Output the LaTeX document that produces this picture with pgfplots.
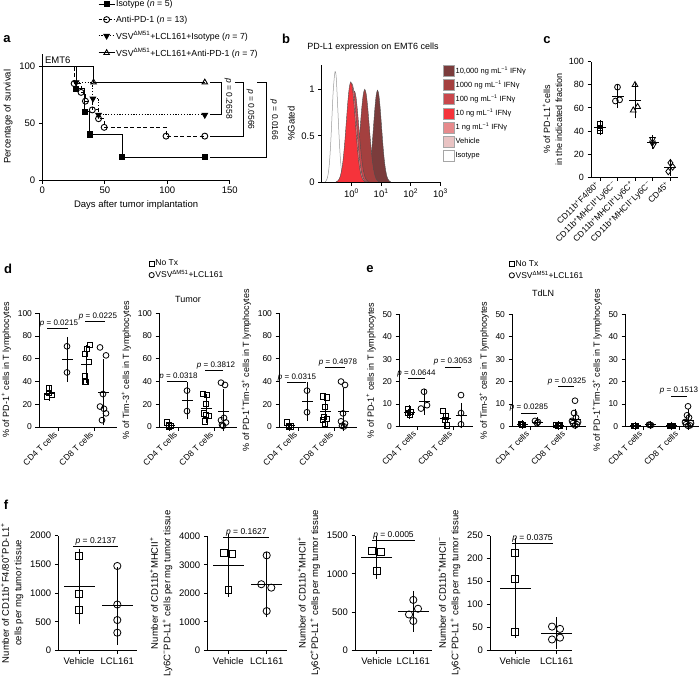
\documentclass[border=0pt]{standalone}
\usepackage{fontspec}
\setmainfont{Liberation Sans}
\usepackage{pgfplots}
\pgfplotsset{compat=1.18}
\usetikzlibrary{plotmarks}
\newcommand{\fs}[2]{\fontsize{#1}{#2}\selectfont}
\newcommand{\sps}{\textsuperscript{+}}
\newcommand{\smn}{\textsuperscript{−}}
\newcommand{\pv}[1]{\textit{p} = #1}
\definecolor{cA}{RGB}{123,60,60}
\definecolor{cB}{RGB}{164,64,63}
\definecolor{cC}{RGB}{201,71,76}
\definecolor{cD}{RGB}{245,51,59}
\definecolor{cE}{RGB}{231,138,140}
\definecolor{cF}{RGB}{233,195,195}
\tikzset{
 ptx/.style={anchor=south, font=\fs{8}{9}, inner sep=1.2pt},
 pbar/.style={line width=0.8pt},
}
\pgfplotsset{
 gp/.style={scale only axis, anchor=south west, axis lines*=left, clip=false,
   axis line style={line width=0.9pt, black},
   tick style={black, line width=0.9pt},
   tick align=outside, major tick length=3.5pt,
   /pgf/number format/assume math mode=true,
   /pgf/number format/1000 sep={},
   scaled ticks=false,
   tick label style={font=\fs{8.5}{10}},
   label style={font=\fs{9}{11}},
   ylabel style={align=center},
 },
 sq/.style={only marks, black, mark=square, mark size=2.6pt, mark options={line width=0.8pt, fill=white}},
 ci/.style={only marks, black, mark=o, mark size=2.9pt, mark options={line width=0.8pt, fill=white}},
 mn/.style={only marks, black, mark=-, mark size=#1, mark options={line width=0.9pt},
   error bars/.cd, y dir=both, y explicit, error mark=-,
   error mark options={mark size=4pt, line width=0.9pt, black},
   error bar style={line width=0.9pt, black}},
 mn/.default=5.5pt,
 mnf/.style={only marks, black, mark=-, mark size=15.5pt, mark options={line width=0.9pt},
   error bars/.cd, y dir=both, y explicit, error mark=-,
   error mark options={mark size=10pt, line width=0.9pt, black},
   error bar style={line width=0.9pt, black}},
 dax/.style={gp, width=78pt, height=113.7pt, xmin=0, xmax=78, ymin=0, ymax=100,
   ytick={0,20,40,60,80,100}, xtick={19,55}, xticklabels={CD4 T cells, CD8 T cells},
   xticklabel style={rotate=45, anchor=east, font=\fs{8.5}{10}}},
 eax/.style={gp, width=74pt, height=112.2pt, xmin=0, xmax=74, ymin=0, ymax=50,
   ytick={0,10,20,30,40,50}, xtick={18,54}, xticklabels={CD4 T cells, CD8 T cells},
   xticklabel style={rotate=45, anchor=east, font=\fs{8.5}{10}}},
 fax/.style={gp, tick label style={font=\fs{9.5}{11}}, label style={font=\fs{9.5}{12.5}}},
}
\begin{document}
\begin{tikzpicture}
\useasboundingbox (0pt,0pt) rectangle (700pt,-677pt);
\node[font=\bfseries\fs{13}{13}] at (7pt,-39pt) {a};
\node[font=\bfseries\fs{13}{13}] at (286pt,-39pt) {b};
\node[font=\bfseries\fs{13}{13}] at (547pt,-40pt) {c};
\node[font=\bfseries\fs{13}{13}] at (8pt,-269pt) {d};
\node[font=\bfseries\fs{13}{13}] at (370pt,-269pt) {e};
\node[font=\bfseries\fs{13}{13}] at (6pt,-505pt) {f};

% ================= a =================
\begin{axis}[gp, at={(42.3pt,-180pt)}, width=187.5pt, height=126.5pt,
  xmin=0, xmax=150, ymin=0, ymax=111, xtick={0,50,100,150}, ytick={0,50,100},
  tick label style={font=\fs{9.5}{11}}, label style={font=\fs{9.5}{11}},
  xlabel={Days after tumor implantation}, ylabel={Percentage of survival},
  legend style={at={(0.297,1.43)}, anchor=north west, draw=none, fill=none,
    font=\fs{8.8}{10}, row sep=5.5pt, inner sep=0pt, nodes={inner sep=1pt}},
  legend cell align=left,
  legend image code/.code={\draw[mark repeat=2,mark phase=2,#1] plot coordinates {(0pt,0pt) (8pt,0pt) (16pt,0pt)};},
]
\addplot[black, line width=0.9pt, const plot, mark=square*, mark size=2.6pt, mark indices={2,3,4,5,6}, forget plot]
  coordinates {(0,100)(27,80)(34,60)(38,40)(64,20)(130,20)};
\addplot[black, line width=0.9pt, const plot, dash pattern=on 4pt off 2.5pt, mark=o, mark size=3pt,
  mark options={solid, fill=white}, mark indices={2,3,4,5,6,7,8,9}, forget plot]
  coordinates {(0,100)(25.5,84.6)(31,76.9)(34.5,69.2)(40,61.5)(45,53.8)(49.5,46.2)(99,38.5)(130,38.5)};
\addplot[black, line width=0.9pt, const plot, dash pattern=on 1.2pt off 1.6pt, mark=triangle*, mark size=3.2pt,
  mark options={solid, rotate=180}, mark indices={2,3,4,5}, forget plot]
  coordinates {(0,100)(27,85.7)(40.5,71.4)(45,57.1)(130,57.1)};
\addplot[black, line width=0.9pt, const plot, mark=triangle, mark size=3.2pt,
  mark options={solid, fill=white}, mark indices={2,3}, forget plot]
  coordinates {(0,100)(41,85.7)(130,85.7)};
\addlegendimage{black, line width=0.9pt, mark=square*, mark size=2.6pt}
\addlegendentry{Isotype (\textit{n} = 5)}
\addlegendimage{black, line width=0.9pt, dash pattern=on 3pt off 2pt, mark=o, mark size=3pt, mark options={solid, fill=white}}
\addlegendentry{Anti-PD-1 (\textit{n} = 13)}
\addlegendimage{black, line width=0.9pt, dash pattern=on 1.2pt off 1.6pt, mark=triangle*, mark size=3.2pt, mark options={solid, rotate=180}}
\addlegendentry{VSV\textsuperscript{ΔM51}+LCL161+Isotype (\textit{n} = 7)}
\addlegendimage{black, line width=0.9pt, mark=triangle, mark size=3.2pt, mark options={solid, fill=white}}
\addlegendentry{VSV\textsuperscript{ΔM51}+LCL161+Anti-PD-1 (\textit{n} = 7)}
\node[anchor=west, font=\fs{9.5}{11}, inner sep=0pt] at (axis cs:2,105) {EMT6};
\draw[line width=0.9pt] (axis cs:134,85.7) -| (axis cs:143.5,57.1) -- (axis cs:134,57.1);
\node[rotate=-90, font=\fs{8.5}{10}] at (axis cs:149,71.4) {\pv{0.2658}};
\draw[line width=0.9pt] (axis cs:154,85.7) -| (axis cs:160.6,38.5) -- (axis cs:134,38.5);
\node[rotate=-90, font=\fs{8.5}{10}] at (axis cs:166.5,62) {\pv{0.0566}};
\draw[line width=0.9pt] (axis cs:171.8,85.7) -| (axis cs:179.7,20) -- (axis cs:134,20);
\node[rotate=-90, font=\fs{8.5}{10}] at (axis cs:185.5,52.8) {\pv{0.0166}};
\end{axis}

% ================= b =================
\node[font=\fs{9}{10}] at (373pt,-47pt) {PD-L1 expression on EMT6 cells};
\begin{axis}[gp, at={(321.7pt,-182.3pt)}, width=118.8pt, height=117.3pt,
  xmin=-1, xmax=3, ymin=0, ymax=1.261, xtick={0,1,2,3},
  xticklabels={10\textsuperscript{0},10\textsuperscript{1},10\textsuperscript{2},10\textsuperscript{3}},
  ytick={0,0.5,1}, yticklabels={0,0.5,1},
  tick label style={font=\fs{9.5}{11}}, label style={font=\fs{9.5}{11}},
  ylabel={\%Gated},
  legend style={at={(1.021,1.0)}, anchor=north west, draw=none, fill=none,
    font=\fs{7.5}{9}, row sep=2.5pt, inner sep=0pt, nodes={inner sep=0.8pt}},
  legend cell align=left,
  legend image code/.code={\draw[#1, line width=0.6pt] (0pt,-5.5pt) rectangle (11pt,5.5pt);},
]
\addplot[draw=gray!80, fill=white, line width=0.5pt, smooth, forget plot] coordinates {
(-0.89,0.005)(-0.856,0.013)(-0.822,0.035)(-0.788,0.079)(-0.754,0.161)(-0.72,0.296)(-0.686,0.489)(-0.652,0.722)(-0.618,0.953)(-0.584,1.10)(-0.55,1.19)(-0.516,1.15)(-0.482,0.953)(-0.448,0.722)(-0.414,0.489)(-0.38,0.296)(-0.346,0.161)(-0.312,0.079)(-0.278,0.035)(-0.244,0.013)(-0.21,0.005)};
\addplot[draw=black!70, fill=cA, line width=0.4pt, smooth, forget plot] coordinates {
(0.43,0.004)(0.475,0.011)(0.52,0.029)(0.565,0.065)(0.61,0.134)(0.655,0.247)(0.7,0.407)(0.745,0.601)(0.79,0.793)(0.835,0.937)(0.88,0.99)(0.925,0.937)(0.97,0.793)(1.015,0.601)(1.06,0.407)(1.105,0.247)(1.15,0.134)(1.195,0.065)(1.24,0.029)(1.285,0.011)(1.33,0.004)};
\addplot[draw=black!70, fill=cB, line width=0.4pt, smooth, forget plot] coordinates {
(-0.05,0.004)(0.0,0.011)(0.05,0.029)(0.1,0.066)(0.15,0.135)(0.2,0.249)(0.25,0.411)(0.3,0.607)(0.35,0.801)(0.4,0.946)(0.45,1.0)(0.5,0.946)(0.55,0.801)(0.6,0.607)(0.65,0.411)(0.7,0.249)(0.75,0.135)(0.8,0.066)(0.85,0.029)(0.9,0.011)(0.95,0.004)};
\addplot[draw=black!70, fill=cC, line width=0.4pt, smooth, forget plot] coordinates {
(-0.4,0.004)(-0.35,0.011)(-0.3,0.028)(-0.25,0.065)(-0.2,0.132)(-0.15,0.244)(-0.1,0.403)(-0.05,0.595)(0.0,0.785)(0.05,0.927)(0.1,0.98)(0.15,0.927)(0.2,0.785)(0.25,0.595)(0.3,0.403)(0.35,0.244)(0.4,0.132)(0.45,0.065)(0.5,0.028)(0.55,0.011)(0.6,0.004)};
\addplot[draw=black!70, fill=cF, line width=0.4pt, smooth, forget plot] coordinates {
(-0.5,0.004)(-0.45,0.011)(-0.4,0.030)(-0.35,0.069)(-0.3,0.140)(-0.25,0.259)(-0.2,0.427)(-0.15,0.631)(-0.1,0.833)(-0.05,0.984)(0,1.04)(0.05,0.984)(0.1,0.833)(0.15,0.631)(0.2,0.427)(0.25,0.259)(0.3,0.140)(0.35,0.069)(0.4,0.030)(0.45,0.011)(0.5,0.004)};
\addplot[draw=black!70, fill=cE, line width=0.4pt, smooth, forget plot] coordinates {
(-0.48,0.004)(-0.43,0.012)(-0.38,0.031)(-0.33,0.070)(-0.28,0.143)(-0.23,0.264)(-0.18,0.436)(-0.13,0.643)(-0.08,0.849)(-0.03,1.003)(0.02,1.06)(0.07,1.003)(0.12,0.849)(0.17,0.643)(0.22,0.436)(0.27,0.264)(0.32,0.143)(0.37,0.070)(0.42,0.031)(0.47,0.012)(0.52,0.004)};
\addplot[draw=black!70, fill=cD, line width=0.4pt, smooth, forget plot] coordinates {
(-0.52,0.004)(-0.47,0.012)(-0.42,0.031)(-0.37,0.071)(-0.32,0.146)(-0.27,0.269)(-0.22,0.444)(-0.17,0.656)(-0.12,0.865)(-0.07,1.022)(-0.02,1.08)(0.03,1.022)(0.08,0.865)(0.13,0.656)(0.18,0.444)(0.23,0.269)(0.28,0.146)(0.33,0.071)(0.38,0.031)(0.43,0.012)(0.48,0.004)};
\addlegendimage{fill=cA, draw=gray!70}
\addlegendentry{10,000 ng mL\textsuperscript{−1} IFNγ}
\addlegendimage{fill=cB, draw=gray!70}
\addlegendentry{1000 ng mL\textsuperscript{−1} IFNγ}
\addlegendimage{fill=cC, draw=gray!70}
\addlegendentry{100 ng mL\textsuperscript{−1} IFNγ}
\addlegendimage{fill=cD, draw=gray!70}
\addlegendentry{10 ng mL\textsuperscript{−1} IFNγ}
\addlegendimage{fill=cE, draw=gray!70}
\addlegendentry{1 ng mL\textsuperscript{−1} IFNγ}
\addlegendimage{fill=cF, draw=gray!70}
\addlegendentry{Vehicle}
\addlegendimage{fill=white, draw=gray!70}
\addlegendentry{Isotype}
\end{axis}

% ================= c =================
\begin{axis}[gp, at={(591pt,-177.3pt)}, width=87pt, height=115.6pt,
  xmin=-0.514, xmax=4.457, ymin=0, ymax=100, ytick={0,20,40,60,80,100},
  xtick={0,1,2,3,4},
  xticklabels={CD11b\sps F4/80\sps, CD11b\sps MHCII\sps Ly6C\smn, CD11b\sps MHCII\sps Ly6C\sps, CD11b\sps MHCII\smn Ly6C\smn, CD45\sps},
  xticklabel style={rotate=45, anchor=east, font=\fs{8.5}{10}},
  tick label style={font=\fs{9}{10}},
  label style={font=\fs{9}{12}},
  ylabel={\% of PD-L1\sps cells\\in the indicated fraction},
]
\addplot[sq] coordinates {(0,46)(0,42.5)(0,40)};
\addplot[ci] coordinates {(1,78)(0.88,66)(1.12,67)};
\addplot[only marks, black, mark=triangle, mark size=3.3pt, mark options={line width=0.8pt, fill=white}] coordinates {(2,80)(1.9,58)(2.15,61)};
\addplot[only marks, black, mark=triangle, mark size=3.3pt, mark options={line width=0.8pt, fill=white, rotate=180}] coordinates {(3,33)(3,30)(3.05,28)};
\addplot[only marks, black, mark=diamond, mark size=3.3pt, mark options={line width=0.8pt, fill=white}] coordinates {(4.02,12.5)(4.15,9)(3.9,5)};
\addplot[mn=6pt] coordinates {(0,42.8) +- (0,3) (1,70.3) +- (0,6.7) (2,66.3) +- (0,11.8) (3,30.3) +- (0,2.5) (4,8.8) +- (0,3.8)};
\end{axis}

% ================= d =================
\node[font=\fs{9}{10}] at (188pt,-299pt) {Tumor};
\begin{axis}[dax, at={(39pt,-427pt)}, ylabel={\% of PD-1\sps{} cells in T lymphocytes}]
\addplot[sq] coordinates {(10,34)(7.5,26.5)(13,28)(10,30)(46,64)(48,69)(51,72)(50,57)(46,45)(46,40)(47,40)};
\addplot[ci] coordinates {(28,71)(28,48)(61,70)(67,63)(64,29)(61,18)(65,16)(67,12)(63,6)};
\addplot[mn] coordinates {(10,29.6) +- (0,3.2) (28,59.5) +- (0,16.3) (47,55.3) +- (0,13.1) (64,30.6) +- (0,25.6)};
\draw[pbar] (axis cs:8,86.8) -- (axis cs:29,86.8);
\node[ptx] at (axis cs:20,86.8) {\pv{0.0215}};
\draw[pbar] (axis cs:46,92.6) -- (axis cs:66,92.6);
\node[ptx] at (axis cs:59,92.6) {\pv{0.0225}};
\end{axis}
\begin{axis}[dax, at={(159pt,-427pt)}, ylabel={\% of Tim-3\sps{} cells in T lymphocytes},
  legend style={at={(-0.13,1.48)}, anchor=north west, draw=none, fill=none,
    font=\fs{8.5}{10}, row sep=1pt, inner sep=0pt, nodes={inner sep=1.2pt}},
  legend cell align=left,
  legend image code/.code={\draw[#1] plot coordinates {(3pt,0pt)};},
]
\addlegendimage{sq, mark size=2.4pt}
\addlegendentry{No Tx}
\addlegendimage{ci, mark size=2.6pt}
\addlegendentry{VSV\textsuperscript{ΔM51}+LCL161}
\addplot[sq] coordinates {(8,4)(10,1.5)(12,1)(10,0.5)(44,29)(48,28)(47,20)(45,12)(47,11)(50,10)(46,5)};
\addplot[ci] coordinates {(28,32)(28,14)(62,39)(66,37)(65,8)(62,6)(67,4)(63,2)(64,1)};
\addplot[mn] coordinates {(10,1.75) += (0,1.5) -= (0,1.5) (28,23) +- (0,12.7) (47,16.4) +- (0,9.2) (64,13.9) += (0,16.3) -= (0,13.9)};
\draw[pbar] (axis cs:8,39.8) -- (axis cs:28,39.8);
\node[ptx] at (axis cs:19.5,39.8) {\pv{0.0318}};
\draw[pbar] (axis cs:46,50) -- (axis cs:64,50);
\node[ptx] at (axis cs:57,50) {\pv{0.3812}};
\end{axis}
\begin{axis}[dax, at={(279pt,-427pt)}, ylabel={\% of PD-1\sps Tim-3\sps{} cells in T lymphocytes}]
\addplot[sq] coordinates {(8,4)(10,1)(12,0.5)(10,0.3)(44,27)(48,26)(46,18)(45,9)(48,7)(44,6)(46,3)};
\addplot[ci] coordinates {(28,32)(28,13)(62,40)(66,37)(64,12)(62,5)(66,3)(63,1)(65,0.5)};
\addplot[mn] coordinates {(10,1.45) += (0,1.7) -= (0,1.45) (28,22.5) +- (0,13.4) (46,13.7) +- (0,9.5) (64,14.1) += (0,16.4) -= (0,14.1)};
\draw[pbar] (axis cs:8,39.3) -- (axis cs:27,39.3);
\node[ptx] at (axis cs:18,39.3) {\pv{0.0315}};
\draw[pbar] (axis cs:46,52.5) -- (axis cs:66,52.5);
\node[ptx] at (axis cs:59,52.5) {\pv{0.4978}};
\end{axis}

% ================= e =================
\node[font=\fs{9}{10}] at (543pt,-293pt) {TdLN};
\begin{axis}[eax, at={(399pt,-426.5pt)}, ylabel={\% of PD-1\sps{} cells in T lymphocytes}]
\addplot[sq] coordinates {(9,8)(11.5,6.5)(9,6)(11,5)(44,7)(47,4.5)(46,3)(48,0.5)};
\addplot[ci] coordinates {(25,15.5)(22,8)(28,9.5)(62,14)(62,6)(62,1)};
\addplot[mn] coordinates {(10,6.4) +- (0,1.3) (25,11) +- (0,4) (46,3.75) +- (0,2.7) (62,5) += (0,3.8) -= (0,4)};
\draw[pbar] (axis cs:9,21.5) -- (axis cs:26,21.5);
\node[ptx] at (axis cs:17.5,21.5) {\pv{0.0644}};
\draw[pbar] (axis cs:46,26.5) -- (axis cs:62,26.5);
\node[ptx] at (axis cs:54,26.5) {\pv{0.3053}};
\end{axis}
\begin{axis}[eax, at={(512pt,-426.5pt)}, ylabel={\% of Tim-3\sps{} cells in T lymphocytes},
  legend style={at={(-0.04,1.493)}, anchor=north west, draw=none, fill=none,
    font=\fs{8.5}{10}, row sep=1pt, inner sep=0pt, nodes={inner sep=1.2pt}},
  legend cell align=left,
  legend image code/.code={\draw[#1] plot coordinates {(3pt,0pt)};},
]
\addlegendimage{sq, mark size=2.4pt}
\addlegendentry{No Tx}
\addlegendimage{ci, mark size=2.6pt}
\addlegendentry{VSV\textsuperscript{ΔM51}+LCL161}
\addplot[sq] coordinates {(9,1)(11,0.8)(10,0.6)(44,0.6)(47,0.4)(46,0.3)(48,0.5)};
\addplot[ci] coordinates {(23,2.5)(26,2)(25,1.5)(63,11.5)(62,6)(64,4)(60,2.5)(66,2)(61,1.5)(65,1)(63,0.5)};
\addplot[mn] coordinates {(10,0.8) +- (0,0.2) (25,2) +- (0,0.5) (46,0.45) +- (0,0.15) (63,3) += (0,2.8) -= (0,2.5)};
\draw[pbar] (axis cs:9,6) -- (axis cs:25,6);
\node[ptx] at (axis cs:17,6) {\pv{0.0285}};
\draw[pbar] (axis cs:46,18) -- (axis cs:62,18);
\node[ptx] at (axis cs:55,18) {\pv{0.0325}};
\end{axis}
\begin{axis}[eax, at={(625pt,-426.5pt)}, ylabel={\% of PD-1\sps Tim-3\sps{} cells in T lymphocytes}]
\addplot[sq] coordinates {(9,0.4)(11,0.3)(10,0.2)(45,0.4)(47,0.3)(46,0.2)(48,0.3)};
\addplot[ci] coordinates {(24,0.8)(26,0.6)(25,0.7)(63,9)(62,5)(64,4)(60,2)(66,1.5)(61,1)(65,0.5)(63,0.3)};
\addplot[mn] coordinates {(10,0.3) +- (0,0.1) (25,0.7) +- (0,0.1) (46,0.3) +- (0,0.1) (63,2.5) += (0,3.5) -= (0,2.2)};
\draw[pbar] (axis cs:46,13.6) -- (axis cs:62,13.6);
\node[ptx] at (axis cs:54,13.6) {\pv{0.1513}};
\end{axis}

% ================= f =================
\begin{axis}[fax, at={(58.3pt,-650.5pt)}, width=78.4pt, height=115pt, xmin=0, xmax=78.4,
  ymin=0, ymax=2000, ytick={0,500,1000,1500,2000}, xtick={20.7,59}, xticklabels={Vehicle,LCL161},
  ylabel={Number of CD11b\sps F4/80\sps PD-L1\sps\\cells per mg tumor tissue}]
\addplot[sq, mark size=3.4pt] coordinates {(20.7,1640)(20.7,980)(20.7,700)};
\addplot[ci, mark size=3.6pt] coordinates {(59,1470)(59,800)(59,530)(59,310)};
\addplot[mnf] coordinates {(20.7,1107) +- (0,480) (59,777) +- (0,500)};
\draw[pbar] (axis cs:15,1814) -- (axis cs:60,1814);
\node[ptx, font=\fs{8.5}{10}] at (axis cs:37.5,1814) {\pv{0.2137}};
\end{axis}
\begin{axis}[fax, at={(207.3pt,-650.5pt)}, width=79.4pt, height=114.3pt, xmin=0, xmax=79.4,
  ymin=0, ymax=4000, ytick={0,1000,2000,3000,4000}, xtick={21,59.4}, xticklabels={Vehicle,LCL161},
  ylabel={Number of CD11b\sps MHCII\sps\\Ly6C\smn PD-L1\sps{} cells per mg tumor tissue}]
\addplot[sq, mark size=3.4pt] coordinates {(16.5,3420)(25,3380)(21,2110)};
\addplot[ci, mark size=3.6pt] coordinates {(59.4,3330)(54,2320)(64,2200)(59.4,1380)};
\addplot[mnf] coordinates {(21,2970) +- (0,745) (59.4,2307) +- (0,800)};
\draw[pbar] (axis cs:16,3950) -- (axis cs:62,3950);
\node[ptx, font=\fs{8.5}{10}] at (axis cs:39,3950) {\pv{0.1627}};
\end{axis}
\begin{axis}[fax, at={(355pt,-650.5pt)}, width=76.7pt, height=115pt, xmin=0, xmax=76.7,
  ymin=0, ymax=1500, ytick={0,500,1000,1500}, xtick={21.7,58.3}, xticklabels={Vehicle,LCL161},
  ylabel={Number of CD11b\sps MHCII\sps\\Ly6C\sps PD-L1\sps{} cells per mg tumor tissue}]
\addplot[sq, mark size=3.4pt] coordinates {(17,1300)(26,1290)(21.7,1040)};
\addplot[ci, mark size=3.6pt] coordinates {(58.3,660)(63,545)(54,470)(58.3,385)};
\addplot[mnf] coordinates {(21.7,1210) +- (0,150) (58.3,513) +- (0,135)};
\draw[pbar] (axis cs:17,1434) -- (axis cs:60,1434);
\node[ptx, font=\fs{8.5}{10}] at (axis cs:38.5,1434) {\pv{0.0005}};
\end{axis}
\begin{axis}[fax, at={(490pt,-650.5pt)}, width=81.7pt, height=115pt, xmin=0, xmax=81.7,
  ymin=0, ymax=250, ytick={0,50,100,150,200,250}, xtick={25,66.7}, xticklabels={Vehicle,LCL161},
  ylabel={Number of CD11b\sps MHCII\smn\\Ly6C\smn PD-L1\sps{} cells per mg tumor tissue}]
\addplot[sq, mark size=3.4pt] coordinates {(25,212)(25,155)(25,40)};
\addplot[ci, mark size=3.6pt] coordinates {(62,52)(70,47)(62,24)(70,28)};
\addplot[mnf] coordinates {(25,136) +- (0,87) (66.7,37.8) +- (0,13)};
\draw[pbar] (axis cs:22,232) -- (axis cs:63,232);
\node[ptx, font=\fs{8.5}{10}] at (axis cs:42.5,232) {\pv{0.0375}};
\end{axis}
\end{tikzpicture}
\end{document}
